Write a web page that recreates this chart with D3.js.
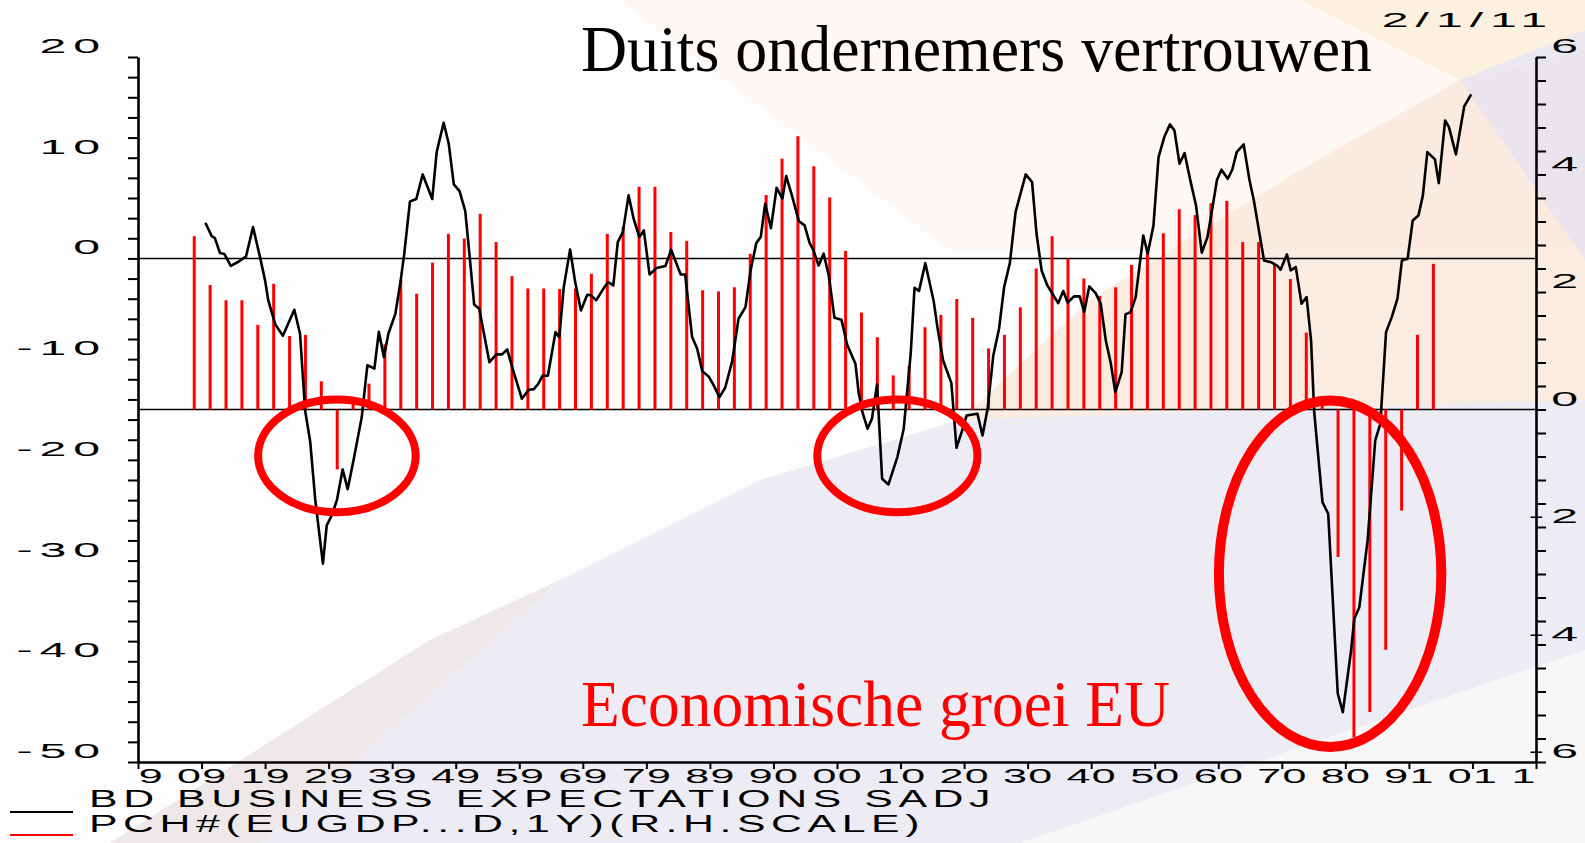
<!DOCTYPE html>
<html>
<head>
<meta charset="utf-8">
<script src="https://cdn.jsdelivr.net/npm/d3@7/dist/d3.min.js"></script>
<style>
  html, body { margin: 0; padding: 0; background: #fff; overflow: hidden; }
  svg { display: block; }
</style>
</head>
<body>
<script>
// Chart data
var yearLabels = ["90", "91", "92", "93", "94", "95", "96", "97", "98", "99",
    "00", "01", "02", "03", "04", "05", "06", "07", "08", "09", "10", "11"];
var leftLabels = [20, 10, 0, -10, -20, -30, -40, -50];
var rightLabels = [6, 4, 2, 0, -2, -4, -6];

// EU GDP growth, % y/y, quarterly from 1990 Q4 (right scale)
var gdpFirst = {year: 1990, quarter: 4};
var gdpGrowth = [2.95, 2.12, 1.86, 1.86, 1.44, 2.14, 1.25, 1.27, 0.48, -1.02,
    0.1, 0.44, 1.11, 2.2, 1.97, 2.5, 2.99, 2.91, 3.33, 2.85,
    2.27, 2.06, 2.06, 2.05, 2.06, 2.31, 2.99, 3.11, 3.79, 3.79,
    3.02, 2.87, 2.03, 2.01, 2.08, 2.65, 3.65, 4.27, 4.65, 4.14,
    3.61, 2.70, 1.65, 1.23, 0.58, 0.74, 1.40, 1.61, 1.88, 1.56,
    1.04, 1.27, 1.74, 2.40, 2.95, 2.57, 2.23, 1.93, 2.08, 2.46,
    2.69, 3.0, 3.41, 3.31, 3.51, 3.55, 2.85, 2.85, 2.47, 2.22,
    1.31, 0.06, -2.51, -5.58, -5.15, -4.09, -1.72, 1.27, 2.48];

// German business expectations (left scale)
var expDates = [1991.06, 1991.16, 1991.21, 1991.29, 1991.36, 1991.46, 1991.58,
    1991.70, 1991.81, 1991.92, 1992.00, 1992.05, 1992.16, 1992.28, 1992.46,
    1992.55, 1992.63, 1992.71, 1992.79, 1992.91, 1992.97, 1993.05, 1993.13,
    1993.22, 1993.30, 1993.39, 1993.52, 1993.61, 1993.72, 1993.79, 1993.87,
    1993.94, 1994.05, 1994.13, 1994.19, 1994.28, 1994.38, 1994.48, 1994.63,
    1994.70, 1994.81, 1994.89, 1994.97, 1995.06, 1995.15, 1995.21, 1995.29,
    1995.37, 1995.53, 1995.64, 1995.73, 1995.81, 1995.90, 1996.04, 1996.15,
    1996.23, 1996.30, 1996.37, 1996.45, 1996.57, 1996.63, 1996.70, 1996.80,
    1996.88, 1996.97, 1997.07, 1997.13, 1997.21, 1997.33, 1997.40, 1997.48,
    1997.55, 1997.63, 1997.72, 1997.80, 1997.89, 1997.96, 1998.05, 1998.16,
    1998.30, 1998.39, 1998.54, 1998.61, 1998.72, 1998.80, 1998.88, 1998.98,
    1999.06, 1999.15, 1999.24, 1999.35, 1999.45, 1999.56, 1999.64, 1999.73,
    1999.80, 1999.87, 1999.96, 2000.05, 2000.14, 2000.20, 2000.29, 2000.40,
    2000.49, 2000.57, 2000.63, 2000.71, 2000.79, 2000.87, 2000.96, 2001.07,
    2001.16, 2001.29, 2001.34, 2001.40, 2001.48, 2001.55, 2001.63, 2001.71,
    2001.81, 2001.95, 2002.05, 2002.16, 2002.22, 2002.29, 2002.39, 2002.52,
    2002.58, 2002.67, 2002.80, 2002.88, 2002.97, 2003.04, 2003.21, 2003.29,
    2003.37, 2003.46, 2003.55, 2003.63, 2003.72, 2003.81, 2003.89, 2003.97,
    2004.07, 2004.14, 2004.22, 2004.31, 2004.39, 2004.48, 2004.56, 2004.63,
    2004.73, 2004.82, 2004.89, 2004.97, 2005.07, 2005.15, 2005.23, 2005.31,
    2005.38, 2005.48, 2005.54, 2005.62, 2005.70, 2005.82, 2005.89, 2005.98,
    2006.06, 2006.15, 2006.24, 2006.31, 2006.39, 2006.47, 2006.56, 2006.65,
    2006.74, 2006.83, 2006.91, 2006.98, 2007.05, 2007.15, 2007.22, 2007.29,
    2007.40, 2007.49, 2007.56, 2007.64, 2007.72, 2007.83, 2007.93, 2007.98,
    2008.08, 2008.14, 2008.22, 2008.31, 2008.39, 2008.46, 2008.51, 2008.56,
    2008.64, 2008.73, 2008.88, 2008.96, 2009.09, 2009.14, 2009.22, 2009.35,
    2009.47, 2009.55, 2009.64, 2009.73, 2009.82, 2009.89, 2009.98, 2010.06,
    2010.15, 2010.22, 2010.29, 2010.41, 2010.47, 2010.57, 2010.63, 2010.74,
    2010.87, 2010.98];
var expValues = [3.54, 2.22, 2.02, 0.53, 0.43, -0.73, -0.33,
    0.2, 3.11, 0.13, -2.18, -4.17, -6.55, -7.68, -5.1,
    -7.48, -15.1, -18.2, -24.0, -30.3, -26.5, -25.5, -24.0,
    -20.95, -22.9, -20.1, -15.8, -10.6, -10.95, -7.28, -9.8,
    -7.48, -5.5, -2.35, 0.47, 5.66, 5.9, 8.34, 5.9,
    10.56, 13.47, 11.39, 7.35, 6.68, 4.7, 0.79, -4.57,
    -5.0, -10.3, -9.53, -9.53, -9.04, -11.05, -13.93, -13.04,
    -12.98, -12.44, -11.62, -11.65, -7.32, -7.81, -2.85, 0.89,
    -2.35, -5.16, -3.6, -3.67, -4.17, -2.95, -2.35, -2.68,
    1.62, 2.61, 6.26, 3.94, 2.12, 2.78, -1.59, -0.96,
    -0.76, 0.86, -1.59, -1.59, -7.81, -8.97, -11.19, -11.72,
    -12.61, -13.77, -12.84, -10.23, -5.99, -4.84, -1.19, 1.52,
    2.12, 5.43, 3.01, 7.02, 5.93, 8.17, 6.26, 3.70,
    3.28, 1.52, 0.79, -0.70, 0.47, -1.69, -5.89, -6.09,
    -8.57, -10.46, -13.28, -15.27, -16.91, -15.92, -12.51, -21.88,
    -22.44, -19.73, -16.91, -9.46, -2.91, -3.24, -0.47, -4.17,
    -6.82, -10.13, -12.38, -18.8, -17.08, -15.59, -15.42, -17.58,
    -14.93, -9.63, -6.98, -2.85, -0.47, 4.6, 6.48, 8.34,
    7.58, 2.45, -1.19, -2.68, -3.51, -4.44, -3.24, -4.37,
    -3.77, -3.77, -5.33, -2.78, -3.44, -4.5, -8.14, -10.46,
    -13.28, -11.29, -5.56, -5.33, -3.84, 2.28, 0.47, 3.28,
    10.06, 12.05, 13.31, 12.71, 9.4, 10.46, 7.75, 5.26,
    0.57, 2.12, 5.1, 7.81, 8.81, 7.91, 8.81, 10.56,
    11.32, 7.81, 5.76, 2.78, -0.2, -0.37, -0.73, -1.12,
    0.4, -1.19, -0.86, -4.5, -3.84, -8.14, -15.27, -18.74,
    -24.2, -25.35, -43.2, -45.05, -38.93, -35.78, -34.63, -28.0,
    -18.07, -16.42, -7.32, -5.83, -4.0, -0.2, -0.03, 3.77,
    4.27, 6.26, 10.56, 9.83, 7.48, 13.7, 13.04, 10.33,
    15.09, 16.29];

// circled periods: centre date, centre value (left scale), half widths
var circleDates = [1993.13, 2001.95, 2008.76];
var circleValues = [-19.6, -19.6, -31.3];
var circleYears = [1.24, 1.26, 1.75];
var circleUnits = [5.6, 5.6, 17.2];
var circleWidths = [8, 8, 10];

var width = 1585, height = 843;
var margin = {top: 57, right: 49, bottom: 81, left: 138};
var plotRight = width - margin.right,
    plotBottom = height - margin.bottom;

var svg = d3.select("body").append("svg")
    .attr("width", width)
    .attr("height", height);

// washed out picture behind the chart
var bg = svg.append("g");
bg.append("rect").attr("width", width).attr("height", height)
    .attr("fill", "#fdfdfd");
var shapes = [
    {fill: "#fcf5f0", pts: [[620, 0], [1585, 0], [1585, 250], [950, 250]]},
    {fill: "#f9e6d8", pts: [[960, 420], [1090, 300], [1300, 170], [1460, 80],
        [1585, 50], [1585, 400], [1100, 415]]},
    {fill: "#fbefd8", pts: [[1300, 0], [1585, 0], [1585, 45], [1460, 80]]},
    {fill: "#e4e3f2", pts: [[1460, 80], [1585, 30], [1585, 260]]},
    {fill: "#e7e5f0", pts: [[260, 843], [560, 580], [760, 480], [960, 420],
        [1100, 415], [1585, 400], [1585, 650], [1020, 843]]},
    {fill: "#f5f4f6", pts: [[1020, 843], [1585, 650], [1585, 843]]},
    {fill: "#e8e0e0", pts: [[110, 843], [430, 640], [560, 580], [260, 843]]}
];
bg.selectAll("polygon")
    .data(shapes)
    .enter()
    .append("polygon")
    .attr("points", function(d) { return d.pts.join(" "); })
    .attr("fill", function(d) { return d.fill; })
    .attr("opacity", 0.75);

// scales
var xScale = d3.scaleLinear().domain([1990, 2012])
    .range([margin.left, plotRight]);
var yLeft = d3.scaleLinear().domain([-50, 20])
    .range([plotBottom, margin.top]);
var yRight = d3.scaleLinear().domain([-6, 6])
    .range([plotBottom, margin.top]);

// stretched "line printer" text
function wideText(g, str, x, y, o) {
    var t = g.append("text")
        .attr("transform", "translate(" + x + "," + y + ") scale(" + o.sx + ",1)")
        .attr("text-anchor", o.anchor || "start")
        .style("font-family", "'Liberation Sans', Arial, sans-serif")
        .style("font-size", o.size + "px")
        .style("letter-spacing", (o.ls || 0) + "px")
        .attr("fill", o.fill || "#000")
        .text(str);
    if (o.len) {
        t.attr("textLength", o.len).attr("lengthAdjust", "spacing");
    }
    return t;
}

// zero lines of both scales
svg.append("line")
    .attr("x1", margin.left).attr("x2", plotRight)
    .attr("y1", yLeft(0)).attr("y2", yLeft(0))
    .attr("stroke", "#000").attr("stroke-width", 1.6);
svg.append("line")
    .attr("x1", margin.left).attr("x2", plotRight)
    .attr("y1", yRight(0)).attr("y2", yRight(0))
    .attr("stroke", "#000").attr("stroke-width", 1.6);

// GDP bars
function quarterDate(i) {
    var q = gdpFirst.quarter - 1 + i;
    return gdpFirst.year + q / 4 + 0.135;
}
svg.selectAll("line.bar")
    .data(gdpGrowth)
    .enter()
    .append("line")
    .attr("class", "bar")
    .attr("x1", function(d, i) { return xScale(quarterDate(i)); })
    .attr("x2", function(d, i) { return xScale(quarterDate(i)); })
    .attr("y1", yRight(0))
    .attr("y2", function(d) { return yRight(d); })
    .attr("stroke", "#ff0000")
    .attr("stroke-width", 3);

// business expectations line
var line = d3.line()
    .x(function(d, i) { return xScale(expDates[i]); })
    .y(function(d) { return yLeft(d); });
svg.append("path")
    .datum(expValues)
    .attr("d", line)
    .attr("fill", "none")
    .attr("stroke", "#000")
    .attr("stroke-width", 2.6)
    .attr("stroke-linejoin", "round");

// red circles
svg.selectAll("ellipse")
    .data(circleDates)
    .enter()
    .append("ellipse")
    .attr("cx", function(d) { return xScale(d); })
    .attr("cy", function(d, i) { return yLeft(circleValues[i]); })
    .attr("rx", function(d, i) {
        return xScale(d + circleYears[i]) - xScale(d);
    })
    .attr("ry", function(d, i) {
        return yLeft(circleValues[i] - circleUnits[i]) - yLeft(circleValues[i]);
    })
    .attr("fill", "none")
    .attr("stroke", "#ff0000")
    .attr("stroke-width", function(d, i) { return circleWidths[i]; });

// axes
var leftTicks = d3.range(-50, 21, 2);
var rightTicks = d3.range(0, 31).map(function(i) { return -6 + i * 0.4; });
var yearTicks = d3.range(1990, 2013);

var gLeft = svg.append("g")
    .attr("transform", "translate(" + margin.left + ",0)")
    .call(d3.axisLeft(yLeft).tickValues(leftTicks).tickSize(10)
        .tickSizeOuter(0).tickFormat(""));
var gRight = svg.append("g")
    .attr("transform", "translate(" + plotRight + ",0)")
    .call(d3.axisRight(yRight).tickValues(rightTicks).tickSize(10)
        .tickSizeOuter(0).tickFormat(""));
var gBottom = svg.append("g")
    .attr("transform", "translate(0," + plotBottom + ")")
    .call(d3.axisBottom(xScale).tickValues(yearTicks).tickSize(7)
        .tickSizeOuter(0).tickFormat(""));
[gLeft, gRight, gBottom].forEach(function(g) {
    g.select(".domain").attr("stroke", "#000").attr("stroke-width", 2.6);
    g.selectAll(".tick line").attr("stroke", "#000").attr("stroke-width", 2);
});

var labels = svg.append("g");
var sx = 2.3, ls = 3;
leftLabels.forEach(function(v) {
    wideText(labels, String(v), 100 + ls * sx, yLeft(v) - 4,
        {sx: sx, ls: ls, size: 21, anchor: "end"});
});
rightLabels.forEach(function(v) {
    wideText(labels, String(v), 1578 + ls * sx, yRight(v) - 4,
        {sx: sx, ls: ls, size: 21, anchor: "end"});
});
// year labels: two wide digits spread over most of a year
yearLabels.forEach(function(t, i) {
    wideText(labels, t, xScale(1990 + i + 0.5), 783,
        {sx: 2.05, size: 21, anchor: "middle", len: 30.4});
});
wideText(labels, "2/1/11", 1547 + ls * sx, 27,
    {sx: sx, ls: ls, size: 21, anchor: "end"});

// titles
svg.append("text")
    .attr("x", 581).attr("y", 71)
    .attr("textLength", 791).attr("lengthAdjust", "spacingAndGlyphs")
    .style("font-family", "'Liberation Serif', 'Times New Roman', serif")
    .style("font-size", "65px")
    .attr("fill", "#000")
    .text("Duits ondernemers vertrouwen");
svg.append("text")
    .attr("x", 581).attr("y", 726)
    .attr("textLength", 589).attr("lengthAdjust", "spacingAndGlyphs")
    .style("font-family", "'Liberation Serif', 'Times New Roman', serif")
    .style("font-size", "65px")
    .attr("fill", "#ff0000")
    .text("Economische groei EU");

// legend
var legend = [
    {name: "BD BUSINESS EXPECTATIONS SADJ", color: "#000", len: 907},
    {name: "PCH#(EUGDP...D,1Y)(R.H.SCALE)", color: "#ff0000", len: 836}
];
legend.forEach(function(d, i) {
    svg.append("line")
        .attr("x1", 10).attr("x2", 73)
        .attr("y1", 812 + i * 23).attr("y2", 812 + i * 23)
        .attr("stroke", d.color).attr("stroke-width", 2);
    svg.append("text")
        .attr("x", 89).attr("y", 807 + i * 25)
        .attr("textLength", d.len).attr("lengthAdjust", "spacingAndGlyphs")
        .style("font-family", "'Liberation Sans', Arial, sans-serif")
        .style("font-size", "23px")
        .style("letter-spacing", "3px")
        .attr("fill", "#000")
        .text(d.name);
});
</script>
</body>
</html>
